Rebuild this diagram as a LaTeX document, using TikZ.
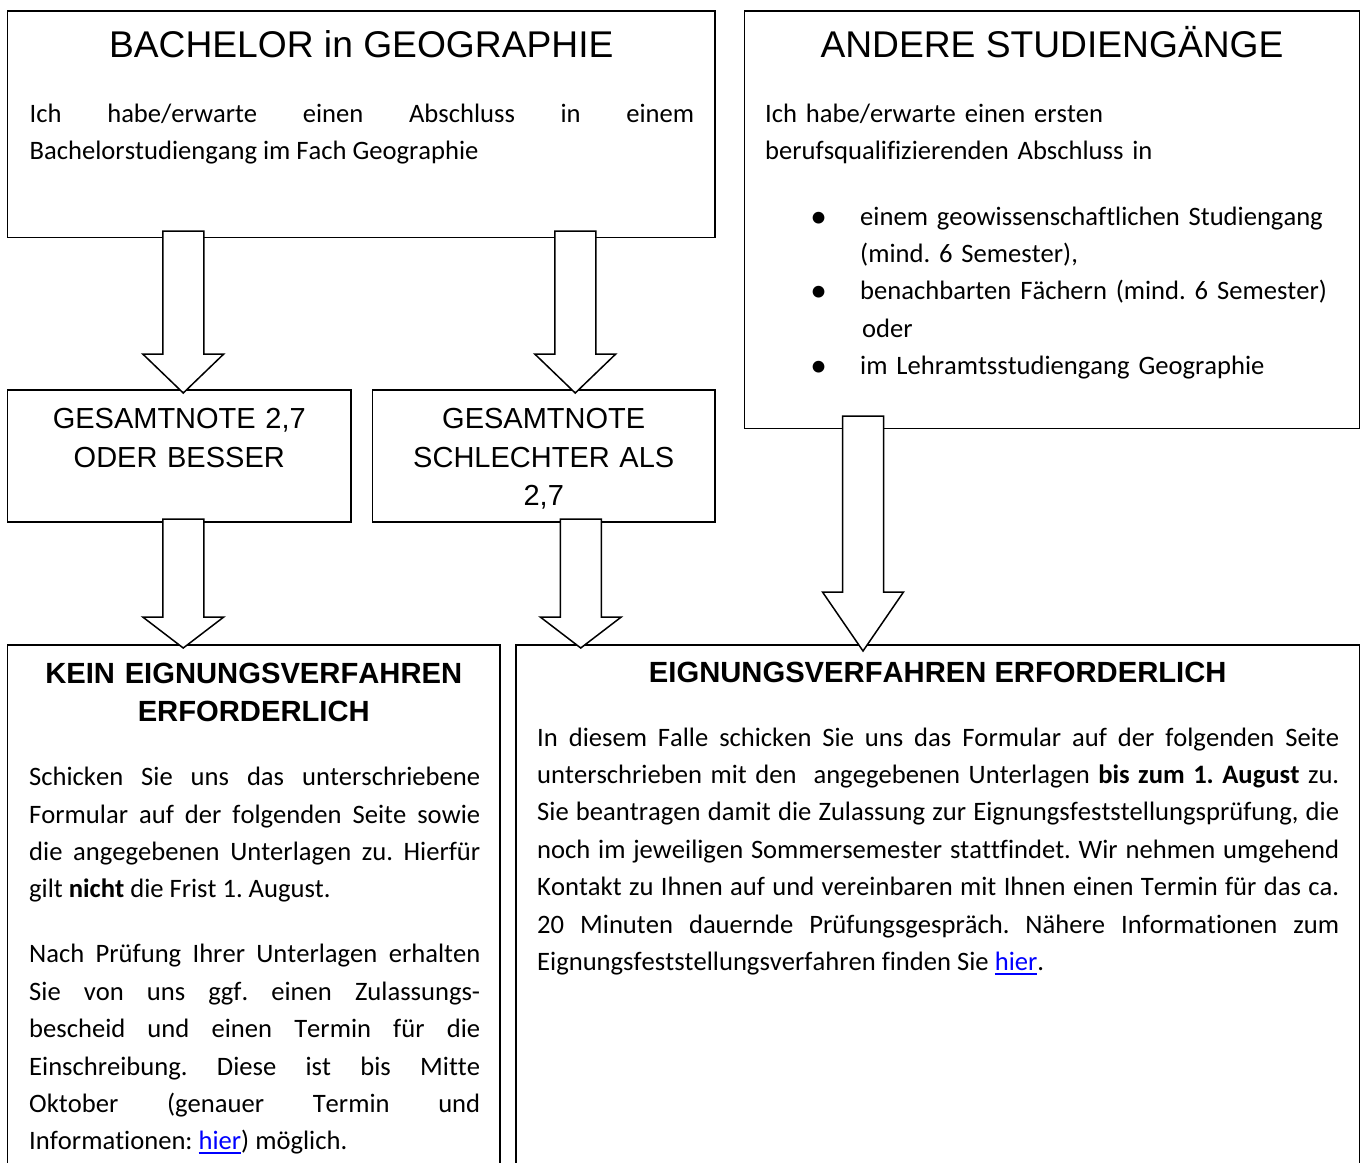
\documentclass[tikz,border=0pt]{standalone}
\usepackage{fontspec}
\setmainfont{Carlito}[Ligatures={TeX,NoCommon},Kerning=Off]
\newfontfamily\arialfont{Liberation Sans}[Kerning=Off]
\usepackage{xcolor}
\usepackage{graphicx}
\usepackage{tikz}
\usetikzlibrary{calc}
\definecolor{linkblue}{HTML}{0000FF}
\newcommand{\titlefont}{\arialfont\fontsize{37.2pt}{44pt}\selectfont}
\newcommand{\labelfont}{\arialfont\fontsize{29pt}{38.3pt}\selectfont}
\newcommand{\headfont}{\arialfont\bfseries\fontsize{29.2pt}{38.4pt}\selectfont}
\newcommand{\bodyfont}{\fontsize{26.6pt}{37.4pt}\selectfont\frenchspacing}
\newcommand{\bul}{\leavevmode\llap{\makebox[83pt]{\raisebox{-2pt}{\scalebox{1.25}{\textbullet}}}}}
\newcommand{\linkword}[1]{\textcolor{linkblue}{\setbox0=\hbox{#1}\rlap{\rule[-4pt]{\wd0}{1.8pt}}\box0}}
\tolerance=9999 \hbadness=10000 \hyphenpenalty=10000
% block arrow: start of shaft, tip, head length
\newcommand{\blockarrow}[3]{%
  \draw[arrowbody] let \p1=(#1), \p2=(#2) in
    (\x1-20.5pt,\y1) -- (\x1-20.5pt,\y2+#3) -- (\x1-40.5pt,\y2+#3) -- (\x2,\y2)
    -- (\x1+40.5pt,\y2+#3) -- (\x1+20.5pt,\y2+#3) -- (\x1+20.5pt,\y1) -- cycle;}
\tikzset{
  box/.style={draw, line width=1.5pt, rectangle, anchor=north west, inner sep=0pt, outer sep=0pt},
  arrowbody/.style={draw, fill=white, line width=1.5pt, line join=miter},
  titletext/.style={font=\titlefont, inner sep=0pt, anchor=base},
  labeltext/.style={font=\labelfont, inner sep=0pt, anchor=north, text width=330pt, align=center, execute at begin node=\strut},
  headtext/.style={font=\headfont, inner sep=0pt, anchor=north, align=center, execute at begin node=\strut},
  bodytext/.style={font=\bodyfont, inner sep=0pt, anchor=north west, align=justify, execute at begin node=\strut},
}
\begin{document}
\begin{tikzpicture}[x=1pt, y=-1pt]
\useasboundingbox (0,0) rectangle (1362,1162);
\clip (0,0) rectangle (1362,1162);
\fill[white] (0,0) rectangle (1362,1162);

% Boxes
\node[box, minimum width=707.5pt, minimum height=226.5pt] (bachelor) at (7.5,11) {};
\node[box, minimum width=615pt, minimum height=417.5pt] (andere) at (744.5,11) {};
\node[box, minimum width=343.5pt, minimum height=132pt] (besser) at (7.5,390) {};
\node[box, minimum width=342.5pt, minimum height=132pt] (schlechter) at (372.5,390) {};
\node[box, minimum width=492.5pt, minimum height=540pt] (kein) at (7.5,645) {};
\node[box, minimum width=843.5pt, minimum height=540pt] (eignung) at (516,645) {};

% Bachelor
\node[titletext] (bachelortitle) at (361.25,57) {BACHELOR in GEOGRAPHIE};
\node[bodytext, text width=664.5pt] (bachelorbody) at (29.5,95.8)
  {Ich habe/erwarte einen Abschluss in einem\linebreak Bachelorstudiengang im Fach Geographie};

% Andere Studiengaenge
\node[titletext] (anderetitle) at (1052,57) {ANDERE STUDIENGÄNGE};
\node[bodytext, align=left, text width=580pt] (anderebody) at (765,95.8)
  {Ich habe/erwarte einen ersten\\berufsqualifizierenden Abschluss in};
\node[bodytext, align=left, text width=480pt] (anderelist) at (860,198.8)
  {\bul einem geowissenschaftlichen Studiengang\\(mind. 6 Semester),\\
   \bul benachbarten Fächern (mind. 6 Semester)\\\hspace*{2pt}oder\\
   \bul im Lehramtsstudiengang Geographie};

% Gesamtnote
\node[labeltext] (besserlabel) at (179.25,401.7) {GESAMTNOTE 2,7\\ODER BESSER};
\node[labeltext] (schlechterlabel) at (543.75,401.7) {GESAMTNOTE\\SCHLECHTER ALS\\2,7};

% Kein Eignungsverfahren
\node[headtext, text width=480pt] (keintitle) at (253.75,656.4) {KEIN EIGNUNGSVERFAHREN\\ERFORDERLICH};
\node[bodytext, text width=451pt] (keinbody) at (29,759.3)
  {Schicken Sie uns das unterschriebene\linebreak Formular auf der folgenden Seite sowie\linebreak
   die angegebenen Unterlagen zu. Hierfür\linebreak gilt \textbf{nicht} die Frist 1. August.};
\node[bodytext, text width=451pt] (keinmore) at (29,936.5)
  {Nach Prüfung Ihrer Unterlagen erhalten\linebreak Sie von uns ggf. einen Zulassungs-\linebreak
   bescheid und einen Termin für die\linebreak Einschreibung. Diese ist bis Mitte\linebreak
   Oktober (genauer Termin und\linebreak Informationen: \linkword{hier}) möglich.};

% Eignungsverfahren
\node[headtext, anchor=base] (eignungtitle) at (937.75,682.7) {EIGNUNGSVERFAHREN ERFORDERLICH};
\node[bodytext, text width=802pt] (eignungbody) at (537,719.8)
  {In diesem Falle schicken Sie uns das Formular auf der folgenden Seite\linebreak
   unterschrieben mit den\ \ angegebenen Unterlagen \textbf{bis zum 1. August} zu.\linebreak
   Sie beantragen damit die Zulassung zur Eignungsfeststellungsprüfung, die\linebreak
   noch im jeweiligen Sommersemester stattfindet. Wir nehmen umgehend\linebreak
   Kontakt zu Ihnen auf und vereinbaren mit Ihnen einen Termin für das ca.\linebreak
   20 Minuten dauernde Prüfungsgespräch. Nähere Informationen zum\linebreak
   Eignungsfeststellungsverfahren finden Sie \linkword{hier}.};

% Arrows
\blockarrow{$(bachelor.south)+(-178,-6.5)$}{$(besser.north)+(4,3)$}{39pt}
\blockarrow{$(bachelor.south)+(214,-6.5)$}{$(schlechter.north)+(31.5,3)$}{39pt}
\blockarrow{$(besser.south)+(4,-3)$}{$(kein.north)+(-70.5,3)$}{31pt}
\blockarrow{$(schlechter.south)+(37,-3)$}{$(eignung.north)+(-357,3)$}{31pt}
\blockarrow{$(andere.south)+(-189,-12.5)$}{$(eignung.north)+(-74.75,6)$}{59pt}
\end{tikzpicture}
\end{document}
